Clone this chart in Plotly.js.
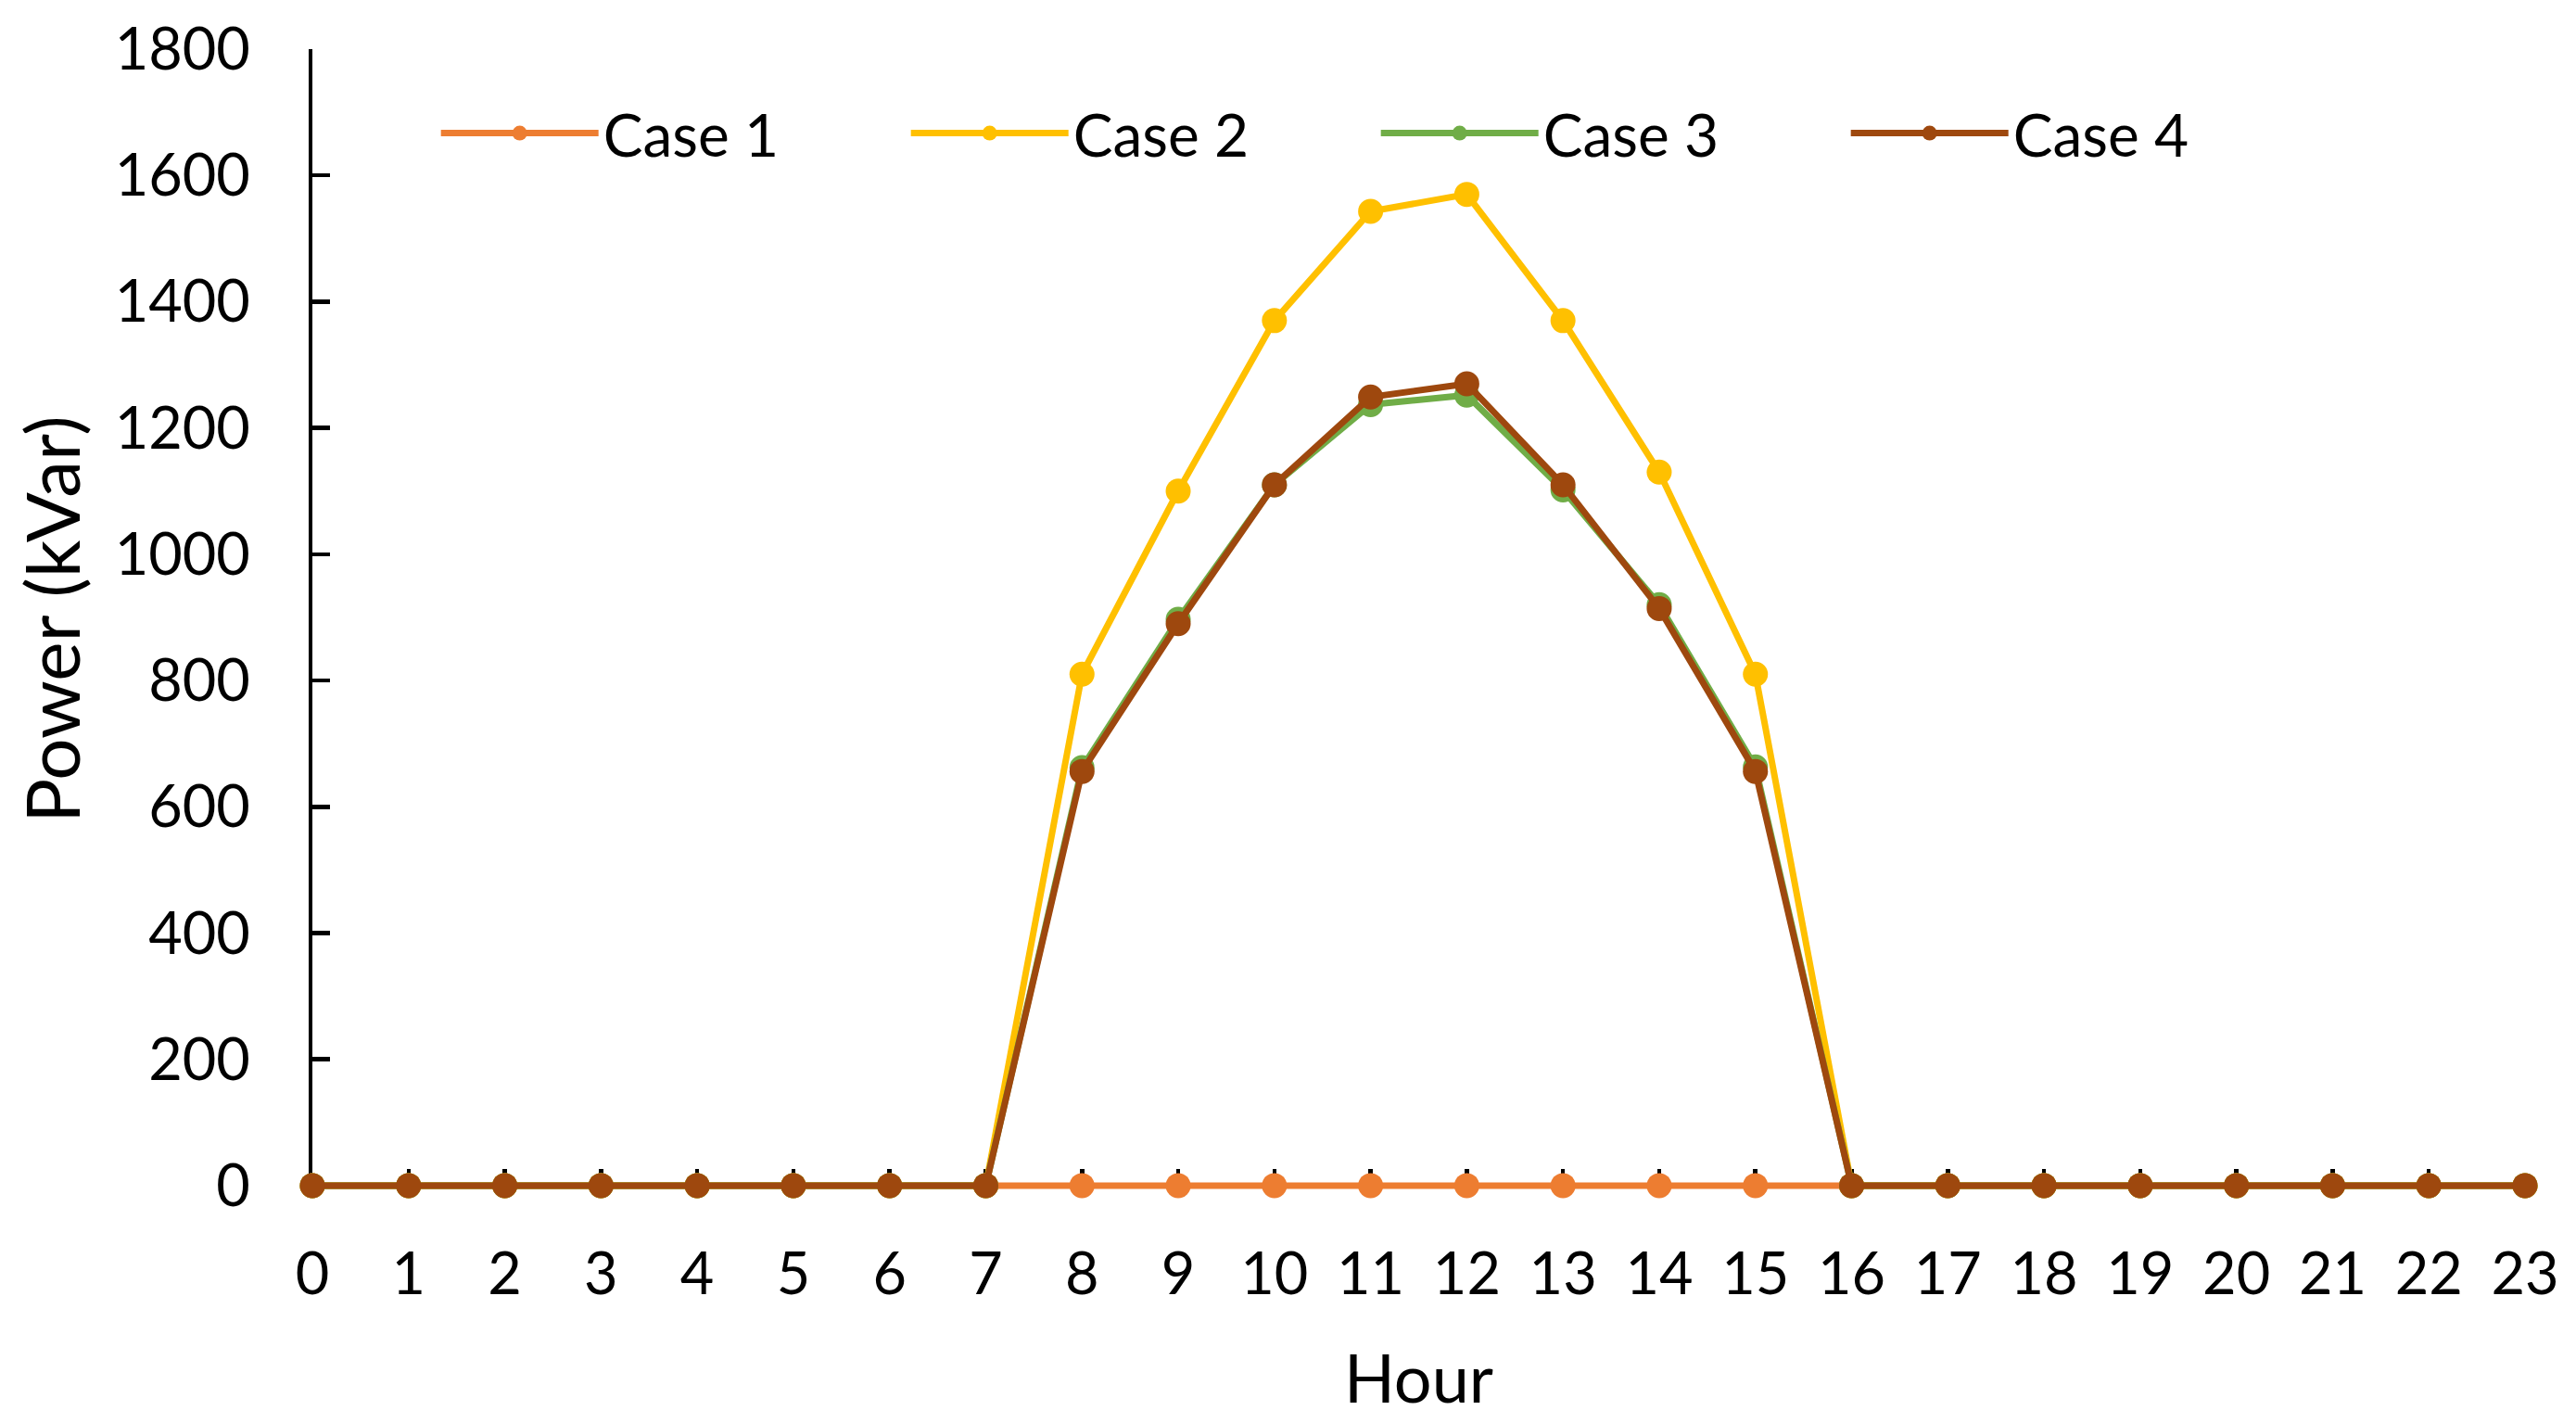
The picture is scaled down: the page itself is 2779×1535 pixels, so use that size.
<!DOCTYPE html>
<html>
<head>
<meta charset="utf-8">
<script src="https://cdn.plot.ly/plotly-3.0.1.min.js"></script>
<style>html,body{margin:0;padding:0;background:#fff;}#chart{width:2779px;height:1535px;}</style>
</head>
<body>
<div id="chart"></div>
<script>
const hours = [0,1,2,3,4,5,6,7,8,9,10,11,12,13,14,15,16,17,18,19,20,21,22,23];
const case1 = [0,0,0,0,0,0,0,0,0,0,0,0,0,0,0,0,0,0,0,0,0,0,0,0];
const case2 = [0,0,0,0,0,0,0,0,810,1100,1370,1543,1570,1370,1130,810,0,0,0,0,0,0,0,0];
const case3 = [0,0,0,0,0,0,0,0,662,897,1110,1237,1252,1102,920,663,0,0,0,0,0,0,0,0];
const case4 = [0,0,0,0,0,0,0,0,656,890,1110,1249,1270,1110,914,656,0,0,0,0,0,0,0,0];
const seriesNames = ['Case 1','Case 2','Case 3','Case 4'];
const seriesColors = ['#ED7D31','#FFC000','#70AD47','#9E480E'];
const seriesValues = [case1, case2, case3, case4];

const FONT = 'Lato, "Noto Sans", sans-serif';
const traces = seriesValues.map((vals, i) => ({
  type: 'scatter',
  mode: 'lines+markers',
  x: hours,
  y: vals,
  name: seriesNames[i],
  line: {color: seriesColors[i], width: 7},
  marker: {color: seriesColors[i], size: 27},
  cliponaxis: false
}));

const layout = {
  width: 2779, height: 1535,
  margin: {l: 337, r: 55, t: 53, b: 252},
  paper_bgcolor: '#ffffff', plot_bgcolor: '#ffffff',
  font: {family: FONT, color: '#000000', size: 60},
  showlegend: true,
  legend: {
    orientation: 'h', x: 0.056, xanchor: 'left', y: 0.926, yanchor: 'middle',
    font: {family: FONT, size: 64, color: '#000'},
    entrywidth: 322, entrywidthmode: 'pixels',
    itemwidth: 170, bgcolor: 'rgba(0,0,0,0)'
  },
  xaxis: {
    range: [0, 23], tickmode: 'linear', tick0: 0, dtick: 1,
    showgrid: false, zeroline: false,
    showline: false,
    ticks: 'inside', ticklen: 22, tickwidth: 4.5, tickcolor: '#000',
    ticklabelstandoff: 49,
    tickfont: {family: FONT, size: 63, color: '#000'},
    layer: 'below traces',
    title: {text: 'Hour', font: {family: FONT, size: 72, color: '#000'}, standoff: 54}
  },
  yaxis: {
    range: [-6, 1800], tickmode: 'array', tickvals: [0,200,400,600,800,1000,1200,1400,1600,1800],
    showgrid: false, zeroline: false,
    showline: true, linecolor: '#000', linewidth: 4.5,
    ticks: 'inside', ticklen: 19, tickwidth: 4.5, tickcolor: '#000',
    ticklabelstandoff: 50,
    tickfont: {family: FONT, size: 63, color: '#000'},
    layer: 'below traces',
    title: {text: 'Power (kVar)', font: {family: FONT, size: 80, color: '#000'}, standoff: 12}
  }
};

Plotly.newPlot('chart', traces, layout, {staticPlot: true, displayModeBar: false});
</script>
</body>
</html>
